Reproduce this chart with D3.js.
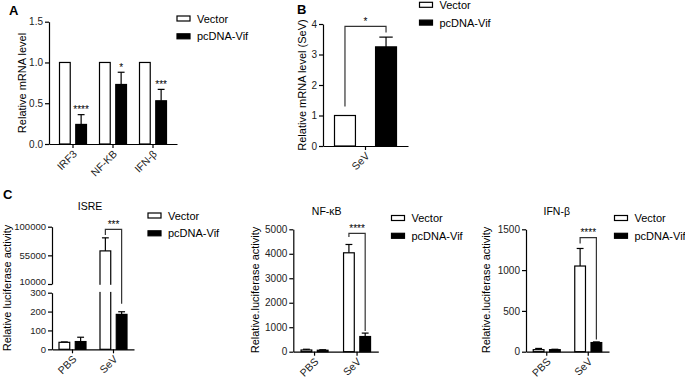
<!DOCTYPE html>
<html>
<head>
<meta charset="utf-8">
<script src="https://cdn.jsdelivr.net/npm/d3@7"></script>
<style>
  html, body { margin: 0; padding: 0; background: #fff; }
  svg { display: block; font-family: "Liberation Sans", Arial, sans-serif; }
</style>
</head>
<body>
<svg id="fig" width="685" height="379"></svg>
<script>
// ---- data ----
const seriesNames = ['Vector', 'pcDNA-Vif'];

// A: relative mRNA level
const groupsA = ['IRF3', 'NF-KB', 'IFN-β'];
const vectorA = [1, 1, 1];
const vifA = [0.24, 0.73, 0.53];
const vifErrA = [0.12, 0.15, 0.14];
const sigA = ['****', '*', '***'];
const ticksA = [0, 0.5, 1.0, 1.5];

// B: relative mRNA level (SeV)
const groupsB = ['SeV'];
const vectorB = [1];
const vifB = [3.25];
const vifErrB = [0.32];
const ticksB = [0, 1, 2, 3, 4];

// C: luciferase reporters
const groupsC = ['PBS', 'SeV'];
const isreVector = [37, 62000];
const isreVectorErr = [2, 20500];
const isreVif = [41, 185];
const isreVifErr = [23, 14];
const isreTicksLow = [0, 100, 200, 300];
const isreTicksHigh = [10000, 55000, 100000];

const nfkbVector = [70, 4040];
const nfkbVectorErr = [30, 340];
const nfkbVif = [60, 620];
const nfkbVifErr = [20, 140];
const nfkbTicks = [0, 1000, 2000, 3000, 4000, 5000];

const ifnVector = [25, 1050];
const ifnVectorErr = [15, 215];
const ifnVif = [25, 112];
const ifnVifErr = [5, 8];
const ifnTicks = [0, 500, 1000, 1500];

const svg = d3.select('#fig');
const INK = '#000';
const FONT = 10;

function label(x, y, txt, opts = {}) {
    return svg.append('text')
        .attr('x', x).attr('y', y)
        .attr('text-anchor', opts.anchor || 'start')
        .style('font-size', (opts.size || 11) + 'px')
        .style('font-weight', opts.bold ? 'bold' : 'normal')
        .style('fill', INK)
        .text(txt);
}

function legend(x, y) {
    seriesNames.forEach((name, i) => {
        const yy = y + i * 17.8;
        svg.append('rect')
            .attr('x', x).attr('y', yy - 2.5)
            .attr('width', 13).attr('height', 5)
            .attr('fill', i === 0 ? '#fff' : INK)
            .attr('stroke', INK).attr('stroke-width', 1.2);
        label(x + 20, yy + 4, name, { size: 11 });
    });
}

function yTitle(x, y, txt) {
    svg.append('text')
        .attr('transform', `translate(${x},${y}) rotate(-90)`)
        .attr('text-anchor', 'middle')
        .style('font-size', '11px').style('fill', INK)
        .text(txt);
}

function styleAxis(g, size) {
    g.selectAll('path, line').attr('stroke', INK).attr('stroke-width', 1.2);
    g.selectAll('text').style('font-size', (size || FONT) + 'px').style('fill', '#222')
        .style('font-family', '"Liberation Sans", Arial, sans-serif');
}

function xAxis(x, y0) {
    const g = svg.append('g')
        .attr('transform', `translate(0,${y0})`)
        .call(d3.axisBottom(x).tickSize(4).tickSizeOuter(0).tickFormat(''));
    styleAxis(g);
    // rotated category labels, ending just under each tick
    x.domain().forEach(d => {
        const tx = x(d) + x.bandwidth() / 2 + 2;
        svg.append('text')
            .attr('x', 0).attr('y', 0).attr('dy', '0.35em')
            .attr('text-anchor', 'end')
            .style('transform', `translate(${tx}px, ${y0 + 8}px) rotate(-45deg)`)
            .style('transform-origin', '0 0')
            .style('font-size', '10.5px').style('fill', '#222')
            .text(d);
    });
    return g;
}

function yAxis(y, x0, ticks, fmt, size) {
    const g = svg.append('g')
        .attr('transform', `translate(${x0},0)`)
        .call(d3.axisLeft(y).tickValues(ticks).tickFormat(fmt).tickSize(4).tickSizeOuter(0).tickPadding(2));
    styleAxis(g, size);
    return g;
}

// draws the two bars per group plus upward error bars
function bars(x, inner, y, vec, vecErr, vif, vifErr) {
    const base = y.range()[0];
    const rows = x.domain().map((gname, i) => [
        { g: gname, s: seriesNames[0], v: vec[i], e: vecErr ? vecErr[i] : 0 },
        { g: gname, s: seriesNames[1], v: vif[i], e: vifErr ? vifErr[i] : 0 }
    ]).flat();
    const cx = d => x(d.g) + x.bandwidth() / 2 + inner(d.s);

    svg.append('g').selectAll('g')
        .data(rows.filter(d => d.e > 0))
        .join('g')
        .each(function (d) {
            const gg = d3.select(this);
            const xm = cx(d) + inner.bandwidth() / 2;
            gg.append('line')
                .attr('x1', xm).attr('x2', xm)
                .attr('y1', y(d.v)).attr('y2', y(d.v + d.e))
                .attr('stroke', INK).attr('stroke-width', 1.2);
            gg.append('line')
                .attr('x1', xm - inner.bandwidth() * 0.32).attr('x2', xm + inner.bandwidth() * 0.32)
                .attr('y1', y(d.v + d.e)).attr('y2', y(d.v + d.e))
                .attr('stroke', INK).attr('stroke-width', 1.2);
        });

    svg.append('g').selectAll('rect')
        .data(rows)
        .join('rect')
        .attr('x', d => cx(d))
        .attr('y', d => y(d.v))
        .attr('width', inner.bandwidth())
        .attr('height', d => base - y(d.v))
        .attr('fill', d => d.s === seriesNames[0] ? '#fff' : INK)
        .attr('stroke', INK).attr('stroke-width', 1.2);
    return { rows, cx };
}

function bracket(xl, xr, yTop, yl, yr, stars) {
    svg.append('path')
        .attr('d', `M${xl},${yl}V${yTop}H${xr}V${yr}`)
        .attr('fill', 'none').attr('stroke', '#333').attr('stroke-width', 1.2);
    label((xl + xr) / 2, yTop - 1.5, stars, { anchor: 'middle', size: 10 });
}

// ---------------- Panel A ----------------
{
    const x = d3.scaleBand().domain(groupsA).range([49, 177]).paddingInner(0).paddingOuter(0.1);
    const inner = d3.scaleBand().domain(seriesNames).range([-13.5, 13.5]).paddingInner(0.34);
    const y = d3.scaleLinear().domain([0, 1.5]).range([144, 21.7]);
    const r = bars(x, inner, y, vectorA, null, vifA, vifErrA);
    yAxis(y, 49, ticksA, d3.format('.1f'));
    xAxis(x, 144);
    groupsA.forEach((gname, i) => {
        const d = r.rows.find(o => o.g === gname && o.s === seriesNames[1]);
        label(r.cx(d) + inner.bandwidth() / 2, y(vifA[i] + vifErrA[i]) - 1.5, sigA[i], { anchor: 'middle', size: 10 });
    });
    yTitle(26, 83, 'Relative mRNA level');
    label(9, 15, 'A', { bold: true, size: 13 });
    legend(177, 18.5);
}

// ---------------- Panel B ----------------
{
    const x = d3.scaleBand().domain(groupsB).range([323, 408]);
    const inner = d3.scaleBand().domain(seriesNames).range([-31, 31]).paddingInner(0.49);
    const y = d3.scaleLinear().domain([0, 4]).range([146, 24]);
    const r = bars(x, inner, y, vectorB, null, vifB, vifErrB);
    yAxis(y, 323, ticksB, d3.format('d'));
    xAxis(x, 146);
    const [dv, dp] = r.rows;
    const xl = r.cx(dv) + inner.bandwidth() / 2;
    const xr = r.cx(dp) + inner.bandwidth() / 2;
    bracket(xl, xr, y(3.99) + 2, y(vectorB[0]) - 9, y(vifB[0] + vifErrB[0]) - 4.5, '*');
    yTitle(306, 85, 'Relative mRNA level (SeV)');
    label(297, 14, 'B', { bold: true, size: 13 });
    legend(419.5, 4.8);
}

// ---------------- Panel C: ISRE (broken axis) ----------------
{
    const x = d3.scaleBand().domain(groupsC).range([52, 134]);
    const inner = d3.scaleBand().domain(seriesNames).range([-13.5, 13.5]).paddingInner(0.34);
    // piecewise scale: 0-300 lower segment, 10000-100000 upper segment
    const y = d3.scaleLinear().domain([0, 300, 10000, 100000]).range([349.3, 292.7, 284, 226.7]);
    const r = bars(x, inner, y, isreVector, isreVectorErr, isreVif, isreVifErr);
    // cut the tall bar where the axis breaks
    r.rows.filter(d => d.v > 10000).forEach(d => {
        svg.append('rect')
            .attr('x', r.cx(d) - 2).attr('y', y(10000) + 0.8)
            .attr('width', inner.bandwidth() + 4).attr('height', y(300) - y(10000) - 1.6)
            .attr('fill', '#fff');
    });
    const yLow = d3.scaleLinear().domain([0, 300]).range([349.3, 292.7]);
    const yHigh = d3.scaleLinear().domain([10000, 100000]).range([284, 226.7]);
    yAxis(yLow, 52, isreTicksLow, d3.format('d'), 9.5);
    const gh = yAxis(yHigh, 52, isreTicksHigh, d3.format('d'), 9.5);
    gh.selectAll('.tick text').filter(d => d === 10000).attr('dy', '0.1em');
    xAxis(x, 349.3);
    const dv = r.rows.find(o => o.g === 'SeV' && o.s === seriesNames[0]);
    const dp = r.rows.find(o => o.g === 'SeV' && o.s === seriesNames[1]);
    const xl = r.cx(dv) + inner.bandwidth() / 2;
    const xr = r.cx(dp) + inner.bandwidth() / 2;
    bracket(xl, xr, 229.3, 235, y(isreVif[1] + isreVifErr[1]) - 8, '***');
    label(90, 210, 'ISRE', { anchor: 'middle', size: 10.5 });
    yTitle(11, 288, 'Relative luciferase activity');
    label(3, 199, 'C', { bold: true, size: 13 });
    legend(148, 215.5);
}

// ---------------- Panel C: NF-κB ----------------
{
    const x = d3.scaleBand().domain(groupsC).range([293.3, 378.3]);
    const inner = d3.scaleBand().domain(seriesNames).range([-13.5, 13.5]).paddingInner(0.34);
    const y = d3.scaleLinear().domain([0, 5000]).range([351.7, 229.3]);
    const r = bars(x, inner, y, nfkbVector, nfkbVectorErr, nfkbVif, nfkbVifErr);
    yAxis(y, 293.3, nfkbTicks, d3.format('d'));
    xAxis(x, 351.7);
    const dv = r.rows.find(o => o.g === 'SeV' && o.s === seriesNames[0]);
    const dp = r.rows.find(o => o.g === 'SeV' && o.s === seriesNames[1]);
    bracket(r.cx(dv) + inner.bandwidth() / 2, r.cx(dp) + inner.bandwidth() / 2,
        233.3, 237, y(nfkbVif[1] + nfkbVifErr[1]) - 2, '****');
    label(326.7, 215, 'NF-κB', { anchor: 'middle', size: 10.5 });
    yTitle(259, 290, 'Relative.luciferase activity');
    legend(391.5, 218);
}

// ---------------- Panel C: IFN-β ----------------
{
    const x = d3.scaleBand().domain(groupsC).range([526, 609]);
    const inner = d3.scaleBand().domain(seriesNames).range([-13.5, 13.5]).paddingInner(0.34);
    const y = d3.scaleLinear().domain([0, 1500]).range([351.7, 229.3]);
    const r = bars(x, inner, y, ifnVector, ifnVectorErr, ifnVif, ifnVifErr);
    yAxis(y, 526, ifnTicks, d3.format('d'));
    xAxis(x, 351.7);
    const dv = r.rows.find(o => o.g === 'SeV' && o.s === seriesNames[0]);
    const dp = r.rows.find(o => o.g === 'SeV' && o.s === seriesNames[1]);
    bracket(r.cx(dv) + inner.bandwidth() / 2, r.cx(dp) + inner.bandwidth() / 2,
        237.7, 243.5, y(ifnVif[1] + ifnVifErr[1]) - 2.5, '****');
    label(556.7, 215, 'IFN-β', { anchor: 'middle', size: 10.5 });
    yTitle(490, 290, 'Relative.luciferase activity');
    legend(614.5, 218);
}
</script>
</body>
</html>
